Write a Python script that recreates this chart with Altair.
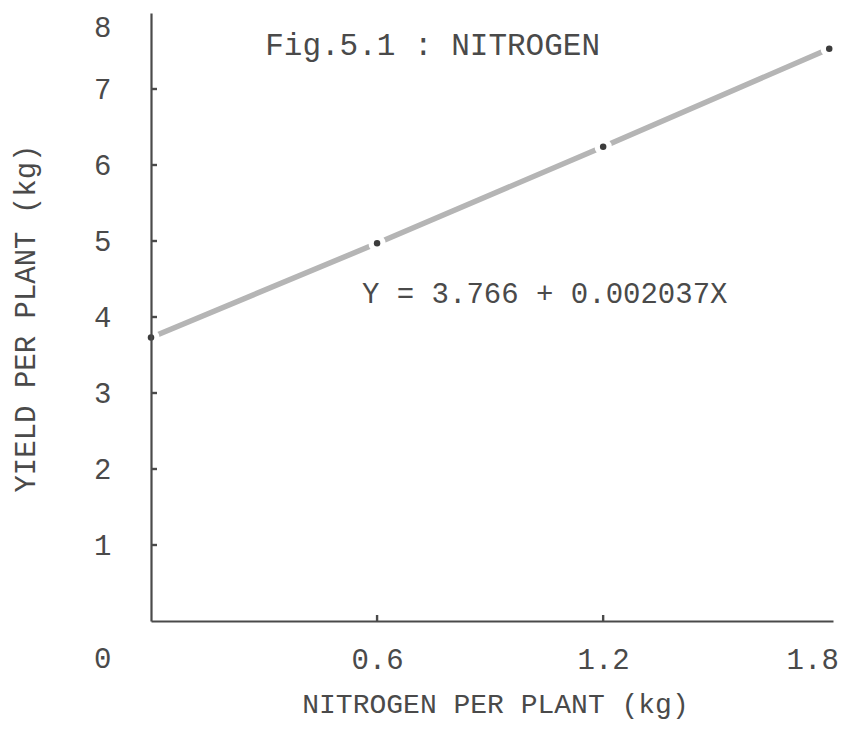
import altair as alt
import pandas as pd

# ---- data ----
nitrogen = [0.0, 0.6, 1.2, 1.8]
yield_kg = [3.73, 4.97, 6.24, 7.53]

y_tick_values = [1, 2, 3, 4, 5, 6, 7]
x_tick_values = [0.6, 1.2]
y_label_values = [0, 1, 2, 3, 4, 5, 6, 7, 8]
x_label_values = [0.6, 1.2, 1.8]

note_text = ["Fig.5.1 : NITROGEN", "Y = 3.766 + 0.002037X"]
note_x = [0.303, 0.56]
note_y = [7.57, 4.30]
note_size = [31, 29]

df = pd.DataFrame({"x": nitrogen, "y": yield_kg})
ytick_df = pd.DataFrame({"y": y_tick_values})
xtick_df = pd.DataFrame({"x": x_tick_values})
notes_df = pd.DataFrame({"x": note_x, "y": note_y, "t": note_text, "s": note_size})

W, H = 682, 608
FONT = "Liberation Mono"
INK = "#4a4a4a"

x_scale = alt.Scale(domain=[0, 1.81], nice=False, zero=True)
y_scale = alt.Scale(domain=[0, 8], nice=False)

x_axis = alt.Axis(
    values=x_label_values, format=".1f", ticks=False, grid=False,
    domainColor=INK, domainWidth=2.2,
    labelFont=FONT, labelFontSize=29, labelColor=INK, labelPadding=24,
    labelOffset={"condition": {"test": "datum.value == 1.8", "value": -17}, "value": 0},
    title="NITROGEN PER PLANT (kg)", titleFont=FONT, titleFontSize=28,
    titleFontWeight="normal", titleColor=INK, titleX=344, titleY=83,
    titleBaseline="middle", titleAlign="center", zindex=1,
)
y_axis = alt.Axis(
    values=y_label_values, format="d", ticks=False, grid=False,
    domainColor=INK, domainWidth=2.2,
    labelFont=FONT, labelFontSize=29, labelColor=INK, labelPadding=40,
    labelBaseline="middle",
    labelOffset={"condition": [
        {"test": "datum.value == 0", "value": 37},
        {"test": "datum.value == 8", "value": 14},
    ], "value": 0},
    title="YIELD PER PLANT (kg)", titleFont=FONT, titleFontSize=29,
    titleFontWeight="normal", titleColor=INK, titleX=-126, titleY=305,
    titleBaseline="middle", titleAlign="center", zindex=1,
)

X = alt.X("x:Q", scale=x_scale, axis=x_axis)
Y = alt.Y("y:Q", scale=y_scale, axis=y_axis)

line = alt.Chart(df).mark_line(color="#b5b5b5", strokeWidth=5.5, strokeCap="round").encode(x=X, y=Y)
halo = alt.Chart(df).mark_point(
    shape="circle", filled=True, fill="white", strokeWidth=0, opacity=1, size=300
).encode(x=X, y=Y)
dots = alt.Chart(df).mark_point(
    shape="circle", filled=True, fill="#3c3c3c", strokeWidth=0, opacity=1, size=42
).encode(x=X, y=Y)

yticks = alt.Chart(ytick_df).mark_rule(color=INK, strokeWidth=2.4).encode(
    y=Y, x=alt.value(0), x2=alt.value(6))
xticks = alt.Chart(xtick_df).mark_rule(color=INK, strokeWidth=2.4).encode(
    x=X, y=alt.value(H), y2=alt.value(H - 6))

notes = alt.Chart(notes_df).mark_text(
    font=FONT, color=INK, align="left", baseline="middle"
).encode(x=X, y=Y, text="t:N", size=alt.Size("s:Q", scale=None, legend=None))

chart = alt.layer(line, halo, dots, yticks, xticks, notes).properties(
    width=W, height=H,
    autosize=alt.AutoSizeParams(type="none"),
    padding={"left": 143, "top": 5, "right": 5, "bottom": 103},
    background="white",
).configure_view(stroke=None)

chart.save("out.html", embed_options={"renderer": "svg", "actions": False})
